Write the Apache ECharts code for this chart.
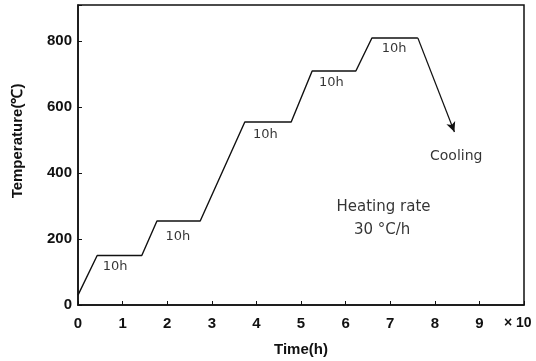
<!DOCTYPE html>
<html><head><meta charset="utf-8">
<script src="https://cdn.jsdelivr.net/npm/echarts@6/dist/echarts.min.js"></script>
<style>html,body{margin:0;padding:0;background:#fff}#c{width:536px;height:361px}</style>
</head><body><div id="c"></div>
<script>
// time in units of 10 h, temperature in °C
const timeVals = [0, 0.43, 1.43, 1.77, 2.74, 3.74, 4.78, 5.25, 6.23, 6.59, 7.62];
const tempVals = [30, 150, 150, 255, 255, 555, 555, 710, 710, 810, 810];
const coolingEnd = [8.44, 525];
const xTicks = [0,1,2,3,4,5,6,7,8,9];
const yTicks = [0,200,400,600,800];
const noteTexts = ['10h','10h','10h','10h','10h','Cooling','Heating rate','30 °C/h'];
const noteX = [0.83, 2.24, 4.2, 5.68, 7.09, 8.48, 6.85, 6.82];
const noteY = [115, 206, 516, 676, 779, 452, 297, 227];
const noteSize = [13, 13, 13, 13, 13, 14, 15, 15];

const chart = echarts.init(document.getElementById('c'));
const font = 'Liberation Sans';
const noteFont = 'DejaVu Sans';
chart.setOption({
  animation: false,
  backgroundColor: '#fff',
  grid: {left: 78, right: 12, top: 5, bottom: 56, show: true, borderColor: '#111', borderWidth: 1.5,
    containLabel: false, outerBoundsMode: 'none'},
  xAxis: {
    type: 'value', min: 0, max: 10, interval: 1,
    name: 'Time(h)', nameLocation: 'middle', nameGap: 37,
    nameTextStyle: {fontFamily: font, fontWeight: 'bold', fontSize: 15, color: '#111'},
    axisLine: {show: true, lineStyle: {color: '#111', width: 1.5}},
    axisTick: {inside: true, length: 4, lineStyle: {color: '#111'}},
    splitLine: {show: false},
    axisLabel: {fontFamily: font, fontWeight: 'bold', fontSize: 15, color: '#111', margin: 11,
      formatter: v => xTicks.includes(v) ? String(v) : ''}
  },
  yAxis: {
    type: 'value', min: 0, max: 910, interval: 200,
    axisLine: {show: true, lineStyle: {color: '#111', width: 1.5}},
    axisTick: {inside: true, length: 4, lineStyle: {color: '#111'}},
    splitLine: {show: false},
    axisLabel: {fontFamily: font, fontWeight: 'bold', fontSize: 15, color: '#111', margin: 6,
      formatter: v => yTicks.includes(v) ? String(v) : ''}
  },
  graphic: [{
    type: 'text', left: 504, top: 316,
    style: {text: '× 10', fontFamily: font, fontWeight: 'bold', fontSize: 14, fill: '#111'}
  }, {
    type: 'text', x: 18, y: 141, rotation: Math.PI / 2,
    style: {text: 'Temperature(℃)', fontFamily: font, fontWeight: 'bold', fontSize: 15, fill: '#111',
      align: 'center', verticalAlign: 'middle'}
  }],
  series: [{
    type: 'line',
    data: timeVals.map((t, i) => [t, tempVals[i]]),
    symbol: 'none',
    lineStyle: {color: '#111', width: 1.4},
    markLine: {
      silent: true, symbol: ['none', 'arrow'], symbolSize: [7, 10],
      lineStyle: {color: '#111', width: 1.2, type: 'solid'},
      label: {show: false},
      data: [[{coord: [timeVals[timeVals.length-1], tempVals[tempVals.length-1]]}, {coord: coolingEnd}]]
    }
  }, {
    type: 'scatter',
    symbolSize: 0,
    data: noteX.map((x, i) => [x, noteY[i]]),
    label: {
      show: true, position: 'inside', verticalAlign: 'middle', align: 'center',
      formatter: p => noteTexts[p.dataIndex],
      fontFamily: noteFont, color: '#000'
    },
    labelLayout: p => ({fontSize: noteSize[p.dataIndex]})
  }]
});
</script></body></html>
